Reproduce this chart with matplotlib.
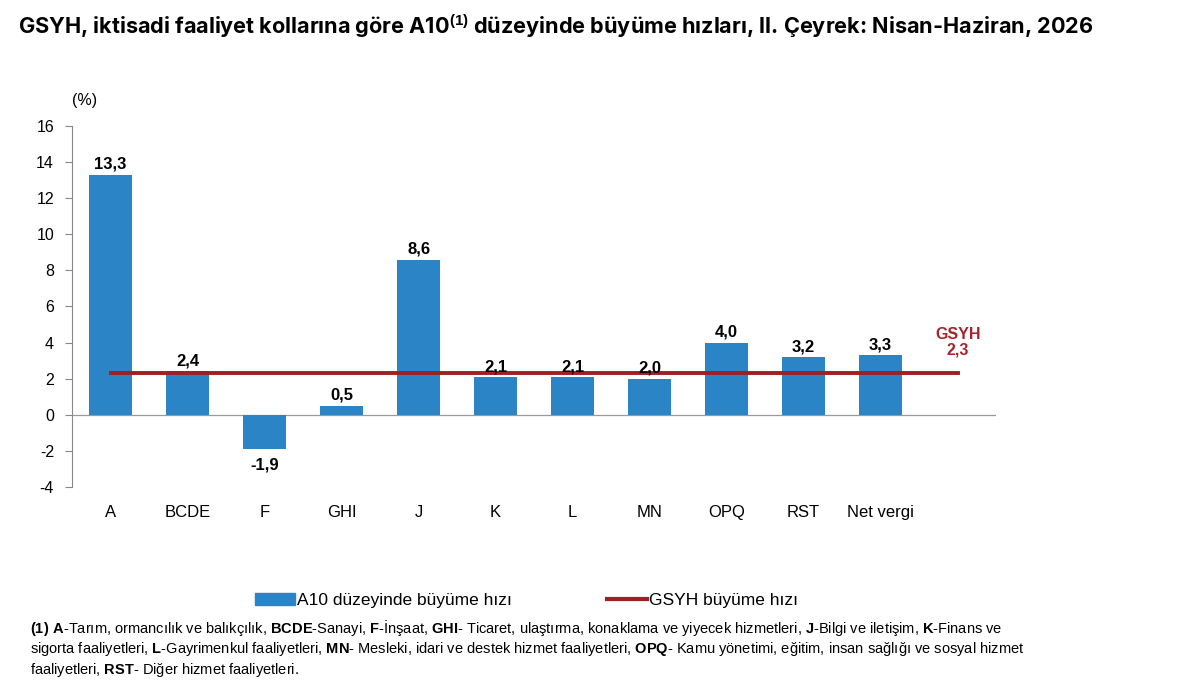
import numpy as np
import matplotlib.pyplot as plt
from matplotlib.patches import Patch
from matplotlib.lines import Line2D

plt.rcParams['font.family'] = ['Liberation Sans', 'DejaVu Sans']
plt.rcParams['mathtext.fontset'] = 'custom'
plt.rcParams['mathtext.rm'] = 'Liberation Sans'
plt.rcParams['mathtext.bf'] = 'Liberation Sans:bold'

# veriler
sektorler = ["A", "BCDE", "F", "GHI", "J", "K", "L", "MN", "OPQ", "RST", "Net vergi"]
buyume = [13.3, 2.4, -1.9, 0.5, 8.6, 2.1, 2.1, 2.0, 4.0, 3.2, 3.3]
gsyh = 2.3
y_ticks = [-4, -2, 0, 2, 4, 6, 8, 10, 12, 14, 16]

mavi = "#2B84C6"
kirmizi = "#9E1F24"

fig = plt.figure(figsize=(11.97, 6.97), dpi=100)
ax = fig.add_axes([0.0602, 0.3013, 0.772, 0.518])

x = np.arange(len(sektorler))
ax.bar(x, buyume, width=0.56, color=mavi, zorder=2)
ax.plot([0, len(sektorler)], [gsyh, gsyh], color=kirmizi, lw=2.8, zorder=3)

for xi, v in zip(x, buyume):
    etiket = f"{v:.1f}".replace(".", ",")
    if v >= 0:
        ax.annotate(etiket, (xi, v), xytext=(0, 2), textcoords="offset points",
                    ha="center", va="bottom", fontsize=12, fontweight="bold", zorder=4)
    else:
        ax.annotate(etiket, (xi, v), xytext=(0, -6), textcoords="offset points",
                    ha="center", va="top", fontsize=12, fontweight="bold", zorder=4)

ax.text(len(sektorler), gsyh + 0.9, "GSYH\n2,3", color="#A8232B", fontsize=11.5,
        fontweight="bold", ha="center", va="bottom", linespacing=1.0)

ax.set_xlim(-0.5, len(sektorler) + 0.5)
ax.set_ylim(-4, 16)
ax.set_yticks(y_ticks)
ax.set_yticklabels([str(t) for t in y_ticks], fontsize=11.5)
ax.set_xticks(x)
ax.set_xticklabels(sektorler, fontsize=12)
ax.tick_params(axis="x", length=0, pad=13)
ax.tick_params(axis="y", length=5, color="#888888", pad=8)
for s in ["top", "right", "bottom"]:
    ax.spines[s].set_visible(False)
ax.spines["left"].set_color("#888888")
ax.axhline(0, color="#999999", lw=0.9, zorder=1)

ax.text(0.0, 1.05, "(%)", transform=ax.transAxes, fontsize=11.5, ha="left", va="bottom")

fig.text(0.015, 0.963,
         r"GSYH, iktisadi faaliyet kollarına göre A10$^{\mathbf{(1)}}$ düzeyinde büyüme hızları, II. Çeyrek: Nisan-Haziran, 2026",
         fontsize=15.6, fontweight="bold", family=["Inter", "DejaVu Sans"], va="center")

tutamaclar = [Patch(color=mavi), Line2D([0], [0], color=kirmizi, lw=3)]
fig.legend(tutamaclar, ["A10 düzeyinde büyüme hızı", "GSYH büyüme hızı"],
           loc="center", bbox_to_anchor=(0.44, 0.139), ncol=2, frameon=False,
           fontsize=12.5, handlelength=2.3, columnspacing=5.5, handletextpad=0.1)

dipnot = (r"$\mathbf{(1)\ A}$-Tarım, ormancılık ve balıkçılık, $\mathbf{BCDE}$-Sanayi, $\mathbf{F}$-İnşaat, "
          r"$\mathbf{GHI}$- Ticaret, ulaştırma, konaklama ve yiyecek hizmetleri, $\mathbf{J}$-Bilgi ve iletişim, $\mathbf{K}$-Finans ve" "\n"
          r"sigorta faaliyetleri, $\mathbf{L}$-Gayrimenkul faaliyetleri, $\mathbf{MN}$- Mesleki, idari ve destek hizmet faaliyetleri, "
          r"$\mathbf{OPQ}$- Kamu yönetimi, eğitim, insan sağlığı ve sosyal hizmet" "\n"
          r"faaliyetleri, $\mathbf{RST}$- Diğer hizmet faaliyetleri.")
fig.text(0.025, 0.070, dipnot, fontsize=10.5, va="center", ha="left", linespacing=1.18)

fig.savefig("out.png", dpi=100)
